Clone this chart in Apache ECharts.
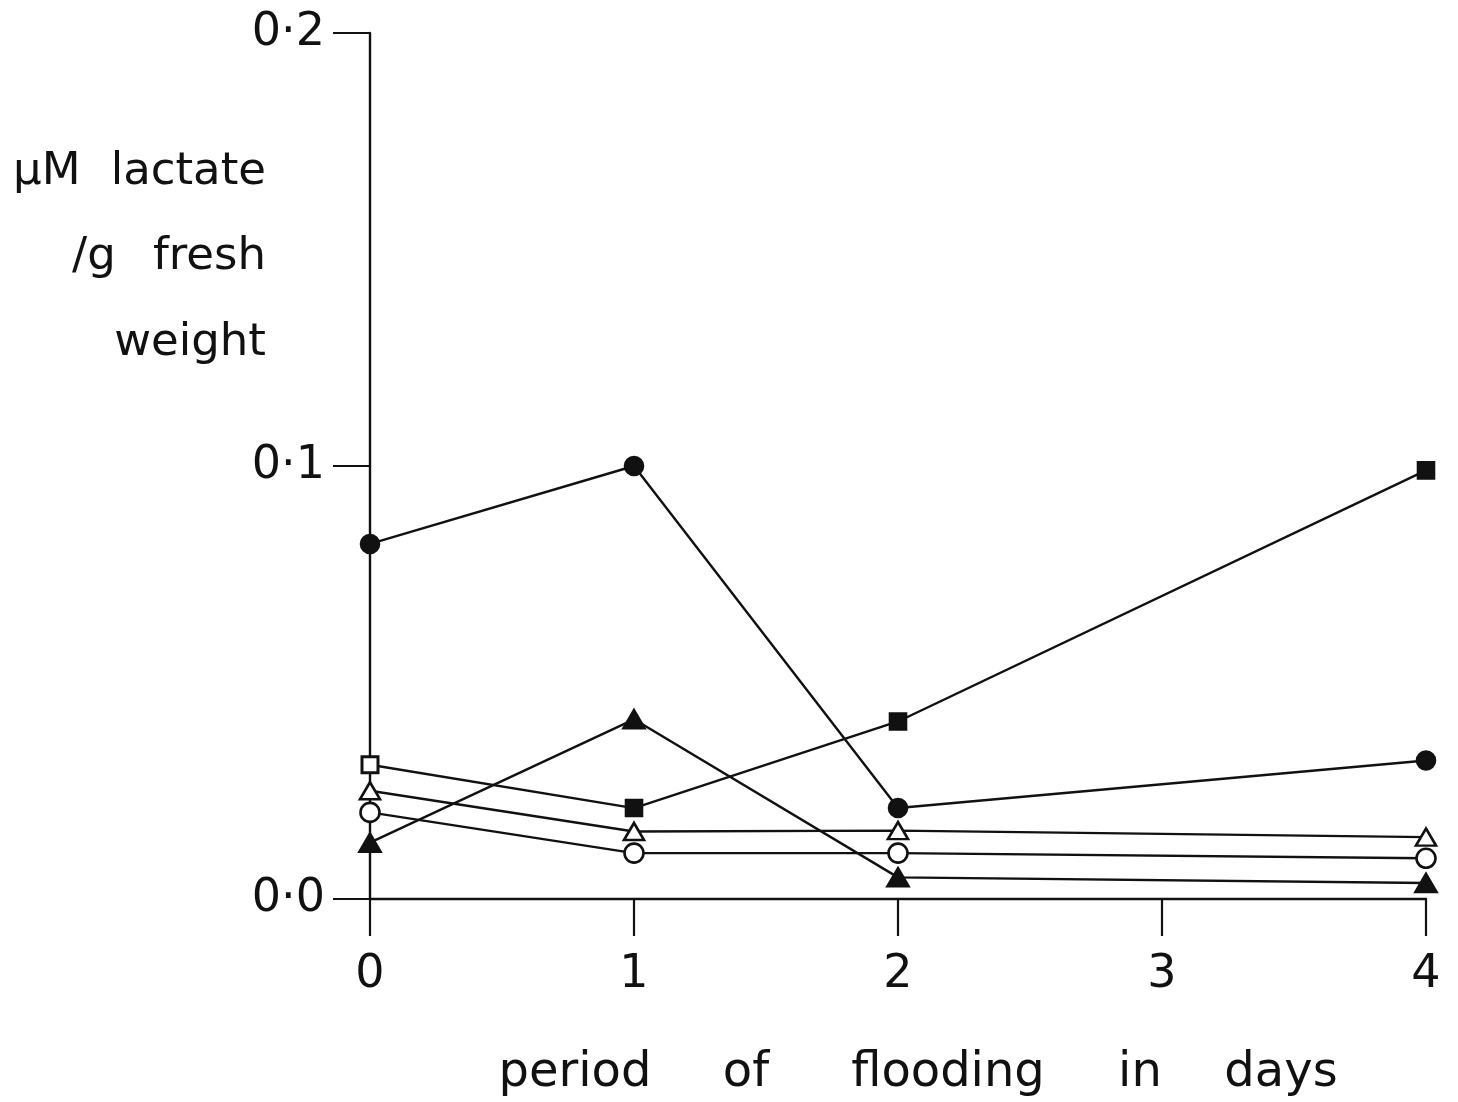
<!DOCTYPE html>
<html>
<head>
<meta charset="utf-8">
<script src="https://cdn.jsdelivr.net/npm/echarts@6/dist/echarts.min.js"></script>
<style>
  html, body { margin: 0; padding: 0; background: #ffffff; }
  #chart { width: 1458px; height: 1102px; }
</style>
</head>
<body>
<div id="chart"></div>
<script>
// Lactate content (µM / g fresh weight) against days of flooding
const days = [0, 1, 2, 4];
const filledCircle   = [0.082, 0.100, 0.021, 0.032];
const filledSquare   = [0.031, 0.021, 0.041, 0.099];
const openTriangle   = [0.025, 0.0156, 0.0158, 0.0143];
const openCircle     = [0.020, 0.0106, 0.0106, 0.0094];
const filledTriangle = [0.013, 0.0415, 0.005, 0.0037];

const xTicks = [0, 1, 2, 3, 4];
const yTicks = [0, 0.1, 0.2];

const titleLines = ['µM', 'lactate', '/g', 'fresh', 'weight'];
const xTitleWords = ['period', 'of', 'flooding', 'in', 'days'];

const INK = '#111111';
const FONT = '"DejaVu Sans", "Liberation Sans", sans-serif';

function pairs(vals) {
  return days.map((d, i) => [d, vals[i]]);
}

function makeSeries(name, vals, symbol, size, filled, extra) {
  return Object.assign({
    name: name,
    type: 'line',
    data: pairs(vals),
    symbol: symbol,
    symbolSize: size,
    showAllSymbol: true,
    lineStyle: { color: INK, width: 2.4 },
    itemStyle: {
      color: filled ? INK : '#ffffff',
      borderColor: INK,
      borderWidth: 2.6
    },
    emphasis: { disabled: true },
    z: 3
  }, extra || {});
}

const squareData = pairs(filledSquare);
// the day-0 square is drawn hollow
squareData[0] = { value: squareData[0], itemStyle: { color: '#ffffff', borderColor: INK, borderWidth: 3 } };

const chart = echarts.init(document.getElementById('chart'), null, { renderer: 'canvas' });

const option = {
  backgroundColor: '#ffffff',
  animation: false,
  grid: { left: 370, right: 32, top: 33, bottom: 203, containLabel: false },
  xAxis: {
    type: 'value',
    min: xTicks[0],
    max: xTicks[xTicks.length - 1],
    interval: 1,
    axisLine: { show: true, onZero: false, lineStyle: { color: INK, width: 2.4 } },
    axisTick: { show: true, inside: false, length: 37, lineStyle: { color: INK, width: 2.2 } },
    axisLabel: {
      color: INK, fontFamily: FONT, fontSize: 46, margin: 53,
      formatter: v => String(v)
    },
    splitLine: { show: false }
  },
  yAxis: {
    type: 'value',
    min: yTicks[0],
    max: yTicks[yTicks.length - 1],
    interval: 0.1,
    axisLine: { show: true, onZero: false, lineStyle: { color: INK, width: 2.4 } },
    axisTick: { show: true, inside: false, length: 37, lineStyle: { color: INK, width: 2.2 } },
    axisLabel: {
      color: INK, fontFamily: FONT, fontSize: 46, margin: 45,
      formatter: v => v.toFixed(1).replace('.', '·')
    },
    splitLine: { show: false }
  },
  series: [
    makeSeries('filled circle', filledCircle, 'circle', 18, true),
    makeSeries('filled square', filledSquare, 'rect', 16, true, { data: squareData }),
    makeSeries('open triangle', openTriangle, 'triangle', [20, 17], false),
    makeSeries('open circle', openCircle, 'circle', 19, false),
    makeSeries('filled triangle', filledTriangle, 'triangle', [21, 18], true)
  ],
  graphic: [
    { type: 'text', left: 13, top: 150, style: { text: titleLines[0], font: '45px ' + FONT, fill: INK } },
    { type: 'text', right: 1458 - 266, top: 150, style: { text: titleLines[1], font: '45px ' + FONT, fill: INK } },
    { type: 'text', left: 72, top: 235, style: { text: titleLines[2], font: '45px ' + FONT, fill: INK } },
    { type: 'text', right: 1458 - 266, top: 235, style: { text: titleLines[3], font: '45px ' + FONT, fill: INK } },
    { type: 'text', right: 1458 - 266, top: 321, style: { text: titleLines[4], font: '45px ' + FONT, fill: INK } }
  ].concat(xTitleWords.map((w, i) => {
    const centers = [575, 746, 948, 1140, 1281];
    return {
      type: 'text',
      x: centers[i],
      y: 1074,
      style: { text: w, font: '48px ' + FONT, fill: INK, align: 'center', verticalAlign: 'middle' }
    };
  }))
};

chart.setOption(option);
</script>
</body>
</html>
